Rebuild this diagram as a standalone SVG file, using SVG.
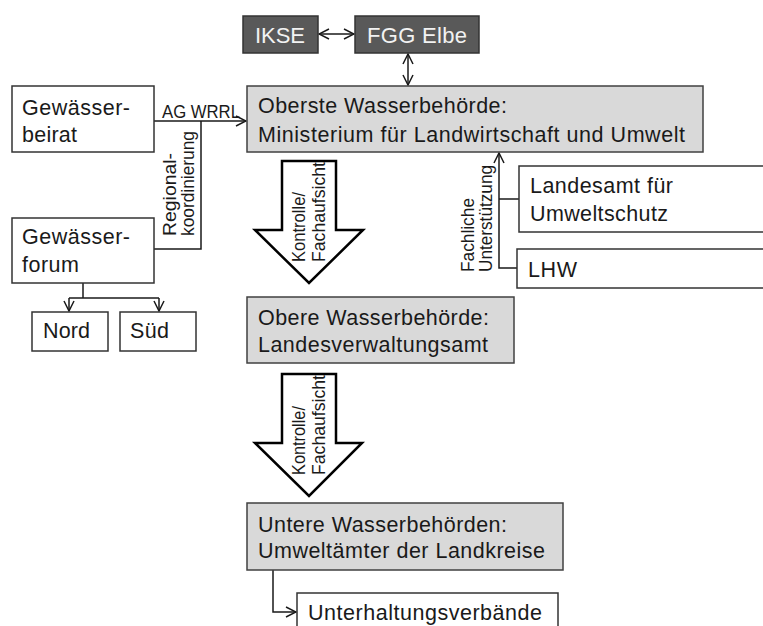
<svg xmlns="http://www.w3.org/2000/svg" width="763" height="626" viewBox="0 0 763 626">
<style>
text{font-family:"Liberation Sans",Arial,sans-serif;fill:#1a1a1a}
.m{font-size:21.5px}
.s{font-size:17.5px}
.w{fill:#f2f2f2;font-size:22px}
.box{fill:#fff;stroke:#333;stroke-width:1.5}
.gray{fill:#d9d9d9;stroke:#404040;stroke-width:1.5}
.dark{fill:#595959;stroke:#333;stroke-width:1.5}
.ln{fill:none;stroke:#1a1a1a;stroke-width:1.5}
.big{fill:#fff;stroke:#000;stroke-width:2.5;stroke-linejoin:miter}
</style>
<defs>
<marker id="ah" viewBox="0 0 12 12" refX="11" refY="6" markerWidth="12" markerHeight="12" markerUnits="userSpaceOnUse" orient="auto-start-reverse">
<path d="M1,1 L11,6 L1,11" fill="none" stroke="#1a1a1a" stroke-width="1.5"/>
</marker>
</defs>
<rect width="763" height="626" fill="#fff"/>

<g id="connectors">
<line class="ln" x1="319" y1="34" x2="354" y2="34" marker-start="url(#ah)" marker-end="url(#ah)"/>
<line class="ln" x1="408" y1="54" x2="408" y2="85" marker-start="url(#ah)" marker-end="url(#ah)"/>
<line class="ln" x1="154" y1="121" x2="246" y2="121" marker-end="url(#ah)"/>
<polyline class="ln" points="201,121 201,249 154,249"/>
<polyline class="ln" points="83,283 83,298"/>
<polyline class="ln" points="69,298 159,298"/>
<line class="ln" x1="69" y1="298" x2="69" y2="311" marker-end="url(#ah)"/>
<line class="ln" x1="159" y1="298" x2="159" y2="311" marker-end="url(#ah)"/>
<polyline class="ln" points="517,268 499,268 499,153" marker-end="url(#ah)"/>
<line class="ln" x1="499" y1="199" x2="519" y2="199"/>
<polyline class="ln" points="273,570 273,612 296,612" marker-end="url(#ah)"/>
<text class="s" x="162" y="118" textLength="78" lengthAdjust="spacingAndGlyphs">AG WRRL</text>
<text class="s" transform="translate(176,236) rotate(-90)" textLength="83" lengthAdjust="spacingAndGlyphs">Regional-</text>
<text class="s" transform="translate(194,236) rotate(-90)" textLength="105" lengthAdjust="spacingAndGlyphs">koordinierung</text>
<text class="s" transform="translate(474,272) rotate(-90)" textLength="74" lengthAdjust="spacingAndGlyphs">Fachliche</text>
<text class="s" transform="translate(492,272) rotate(-90)" textLength="107" lengthAdjust="spacingAndGlyphs">Unterstützung</text>
</g>

<g id="IKSE">
<rect class="dark" x="243" y="16" width="75" height="37"/>
<text class="w" x="255" y="43" textLength="50">IKSE</text>
</g>
<g id="FGG">
<rect class="dark" x="355" y="16" width="124" height="37"/>
<text class="w" x="367" y="43" textLength="100">FGG Elbe</text>
</g>

<g id="oberste">
<rect class="gray" x="247" y="86" width="456" height="66"/>
<text class="m" x="258" y="113" textLength="249">Oberste Wasserbehörde:</text>
<text class="m" x="258" y="142" textLength="427">Ministerium für Landwirtschaft und Umwelt</text>
</g>

<g id="beirat">
<rect class="box" x="12" y="86" width="142" height="66"/>
<text class="m" x="22" y="115" textLength="108">Gewässer-</text>
<text class="m" x="22" y="142" textLength="55">beirat</text>
</g>

<g id="forum">
<rect class="box" x="12" y="218" width="142" height="65"/>
<text class="m" x="22" y="244" textLength="108">Gewässer-</text>
<text class="m" x="22" y="272" textLength="57">forum</text>
</g>

<g id="nord">
<rect class="box" x="32" y="312" width="76" height="39"/>
<text class="m" x="43" y="338" textLength="47">Nord</text>
</g>
<g id="sued">
<rect class="box" x="120" y="312" width="76" height="39"/>
<text class="m" x="130" y="338" textLength="39">Süd</text>
</g>

<g id="landesamt">
<rect class="box" x="519" y="166" width="260" height="66"/>
<text class="m" x="530" y="193" textLength="143">Landesamt für</text>
<text class="m" x="530" y="221" textLength="138">Umweltschutz</text>
</g>
<g id="lhw">
<rect class="box" x="517" y="249" width="260" height="39"/>
<text class="m" x="528" y="277" textLength="49">LHW</text>
</g>

<g id="arrow1">
<polygon class="big" points="282,161 336,161 336,230 363,230 309,283 255,230 282,230"/>
<text class="s" transform="translate(305,262) rotate(-90)" textLength="70" lengthAdjust="spacingAndGlyphs">Kontrolle/</text>
<text class="s" transform="translate(325,262) rotate(-90)" textLength="100" lengthAdjust="spacingAndGlyphs">Fachaufsicht</text>
</g>

<g id="obere">
<rect class="gray" x="247" y="297" width="267" height="66"/>
<text class="m" x="258" y="325" textLength="231">Obere Wasserbehörde:</text>
<text class="m" x="258" y="352" textLength="230">Landesverwaltungsamt</text>
</g>

<g id="arrow2">
<polygon class="big" points="282,374 336,374 336,443 362,443 309,496 255,443 282,443"/>
<text class="s" transform="translate(305,475) rotate(-90)" textLength="69" lengthAdjust="spacingAndGlyphs">Kontrolle/</text>
<text class="s" transform="translate(325,475) rotate(-90)" textLength="100" lengthAdjust="spacingAndGlyphs">Fachaufsicht</text>
</g>

<g id="untere">
<rect class="gray" x="247" y="503" width="316" height="67"/>
<text class="m" x="258" y="532" textLength="249">Untere Wasserbehörden:</text>
<text class="m" x="258" y="558" textLength="287">Umweltämter der Landkreise</text>
</g>

<g id="unterhaltung">
<rect class="box" x="297" y="593" width="261" height="45"/>
<text class="m" x="308" y="620" textLength="234">Unterhaltungsverbände</text>
</g>
</svg>
